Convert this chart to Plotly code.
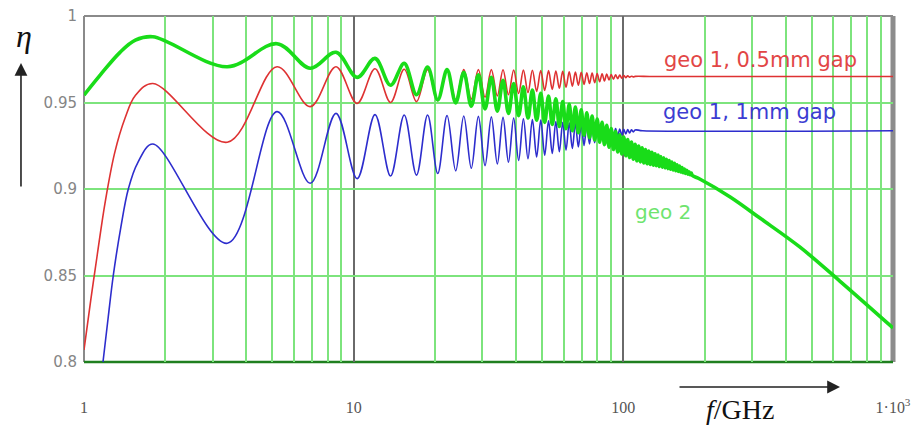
import plotly.graph_objects as go

# ---------------- data ----------------
# frequencies (GHz) of the successive maxima / minima of the ripple
f_osc = [1.8, 3.4, 5.2, 6.9, 8.6, 10.3, 12.0, 13.7, 15.4, 17.1, 18.8, 20.5, 22.2, 23.9,
         25.6, 27.3, 29.0, 30.7, 32.4, 34.1, 35.8, 37.5, 39.2, 40.9, 42.6, 44.3, 46.0,
         47.7, 49.4, 51.1, 52.8, 54.5, 56.2, 57.9, 59.6, 61.3, 63.0, 64.7, 66.4, 68.1,
         69.8, 71.5, 73.2, 74.9, 76.6, 78.3, 80.0, 81.7, 83.4, 85.1, 86.8, 88.5, 90.2,
         91.9, 93.6, 95.3, 97.0, 98.7, 100.4, 102.1, 103.8, 105.5, 107.2, 108.9, 110.6]

# geo 1, 0.5 mm gap (red)
red_lead_f = [1.0, 1.06, 1.12, 1.2, 1.3, 1.42, 1.55]
red_lead_eta = [0.807, 0.836, 0.862, 0.893, 0.921, 0.941, 0.954]
red_osc_eta = [0.961, 0.927, 0.9707, 0.9476, 0.9707, 0.9495, 0.9695, 0.9500, 0.9692, 0.9505,
               0.9690, 0.9510, 0.9690, 0.9515, 0.9690, 0.9520, 0.9690, 0.9530, 0.9690, 0.9538,
               0.9689, 0.9545, 0.9688, 0.9552, 0.9687, 0.9558, 0.9686, 0.9564, 0.9685, 0.9570,
               0.9684, 0.9576, 0.9682, 0.9582, 0.9680, 0.9588, 0.9678, 0.9594, 0.9676, 0.9600,
               0.9674, 0.9605, 0.9672, 0.9610, 0.9670, 0.9615, 0.9668, 0.9620, 0.9666, 0.9625,
               0.9664, 0.9630, 0.9662, 0.9634, 0.9660, 0.9638, 0.9658, 0.9641, 0.9656, 0.9644,
               0.9654, 0.9646, 0.9652, 0.9648, 0.9651]
red_tail_f = [130, 1000]
red_tail_eta = [0.965, 0.965]

# geo 1, 1 mm gap (blue)
blue_lead_f = [1.176, 1.23, 1.284, 1.37, 1.46, 1.58]
blue_lead_eta = [0.800, 0.826, 0.850, 0.878, 0.900, 0.915]
blue_osc_eta = [0.926, 0.8686, 0.9447, 0.9033, 0.9437, 0.9060, 0.9430, 0.9075, 0.9428, 0.9080,
                0.9428, 0.9090, 0.9425, 0.9105, 0.9422, 0.9120, 0.9420, 0.9135, 0.9417, 0.9145,
                0.9414, 0.9155, 0.9410, 0.9165, 0.9406, 0.9175, 0.9402, 0.9185, 0.9398, 0.9195,
                0.9394, 0.9205, 0.9390, 0.9215, 0.9386, 0.9225, 0.9382, 0.9234, 0.9378, 0.9243,
                0.9374, 0.9252, 0.9370, 0.9260, 0.9366, 0.9268, 0.9362, 0.9276, 0.9358, 0.9284,
                0.9355, 0.9291, 0.9352, 0.9298, 0.9349, 0.9305, 0.9347, 0.9312, 0.9345, 0.9318,
                0.9343, 0.9324, 0.9342, 0.9330, 0.9341]
blue_tail_f = [118, 1000]
blue_tail_eta = [0.9337, 0.9337]

# geo 2 (green)
green_lead_f = [1.0, 1.15, 1.36, 1.55]
green_lead_eta = [0.9543, 0.966, 0.979, 0.986]
green_osc_eta = [0.988, 0.9707, 0.984, 0.9698, 0.979, 0.9645, 0.9755, 0.9600, 0.9726, 0.9545,
                 0.9705, 0.9515, 0.9690, 0.9498, 0.9675, 0.9478, 0.9660, 0.9463, 0.9645, 0.9450,
                 0.9628, 0.9437, 0.9610, 0.9424, 0.9591, 0.9410, 0.9572, 0.9397, 0.9553, 0.9385,
                 0.9537, 0.9373, 0.9521, 0.9361, 0.9505, 0.9349, 0.9489, 0.9337, 0.9473, 0.9325,
                 0.9458, 0.9311, 0.9440, 0.9297, 0.9422, 0.9283, 0.9404, 0.9270, 0.9386, 0.9256,
                 0.9368, 0.9242, 0.9350, 0.9228, 0.9332, 0.9214, 0.9314, 0.9202, 0.9300, 0.9192,
                 0.9286, 0.9182, 0.9272, 0.9172, 0.9258]
green_ext_f = [112.3, 114.0, 115.7, 117.4, 119.1, 120.8, 122.5, 124.2, 125.9, 127.6, 129.3,
               131.0, 132.7, 134.4, 136.1, 137.8, 139.5, 141.2, 142.9, 144.6, 146.3, 148.0,
               149.7, 151.4, 153.1, 154.8, 156.5, 158.2, 159.9, 161.6, 163.3, 165.0, 166.7,
               168.4, 170.1, 171.8, 173.5, 175.2, 176.9, 178.6, 180.3]
green_ext_eta = [0.9163, 0.9248, 0.9157, 0.9238, 0.9151, 0.9228, 0.9146, 0.9220, 0.9142, 0.9212,
                 0.9138, 0.9204, 0.9134, 0.9196, 0.9130, 0.9188, 0.9126, 0.9180, 0.9122, 0.9172,
                 0.9118, 0.9164, 0.9114, 0.9156, 0.9110, 0.9148, 0.9106, 0.9140, 0.9102, 0.9132,
                 0.9098, 0.9124, 0.9094, 0.9116, 0.9090, 0.9108, 0.9086, 0.9100, 0.9082, 0.9092,
                 0.9078]
green_tail_f = [192, 249, 321, 451, 635, 1000]
green_tail_eta = [0.9058, 0.8954, 0.8832, 0.8665, 0.8468, 0.8197]

x_tick_vals = [1, 10, 100, 1000]
x_tick_text = ["1", "10", "100", "1\u00b710<sup>3</sup>"]
y_tick_vals = [0.8, 0.85, 0.9, 0.95, 1.0]
y_tick_text = ["0.8", "0.85", "0.9", "0.95", "1"]

# ---------------- figure ----------------
GRID_GREEN = "rgb(125,228,125)"

fig = go.Figure()

fig.add_trace(go.Scatter(
    x=red_lead_f + f_osc + red_tail_f,
    y=red_lead_eta + red_osc_eta + red_tail_eta,
    mode="lines", line=dict(color="rgb(222,50,50)", width=1.6, shape="spline"),
    name="geo 1, 0.5mm gap"))

fig.add_trace(go.Scatter(
    x=blue_lead_f + f_osc + blue_tail_f,
    y=blue_lead_eta + blue_osc_eta + blue_tail_eta,
    mode="lines", line=dict(color="rgb(45,45,205)", width=1.6, shape="spline"),
    name="geo 1, 1mm gap"))

fig.add_trace(go.Scatter(
    x=green_lead_f + f_osc + green_ext_f + green_tail_f,
    y=green_lead_eta + green_osc_eta + green_ext_eta + green_tail_eta,
    mode="lines", line=dict(color="rgb(25,220,25)", width=3.6, shape="spline"),
    name="geo 2"))

fig.update_layout(
    width=917, height=430,
    margin=dict(l=84, r=24, t=16, b=68, autoexpand=False),
    paper_bgcolor="white", plot_bgcolor="white",
    showlegend=False,
    xaxis=dict(
        type="log", range=[0, 3], automargin=False,
        tickvals=x_tick_vals, ticktext=x_tick_text,
        showgrid=True, gridcolor="#6a6a6a", gridwidth=2,
        minor=dict(dtick="D1", showgrid=True, gridcolor=GRID_GREEN, gridwidth=1.6, ticks=""),
        zeroline=False, showline=False, ticks="",
        ticklabelstandoff=34,
        tickfont=dict(family="Liberation Serif", size=16, color="#555555"),
    ),
    yaxis=dict(
        range=[0.8, 1.0], automargin=False,
        tickvals=y_tick_vals, ticktext=y_tick_text,
        showgrid=True, gridcolor=GRID_GREEN, gridwidth=1.6,
        zeroline=False, showline=False, ticks="",
        ticklabelstandoff=6,
        tickfont=dict(family="DejaVu Sans", size=15, color="#858585"),
    ),
)

# frame
fig.add_shape(type="line", xref="paper", yref="paper", x0=0, x1=0, y0=0, y1=1,
              line=dict(color="#8a8a8a", width=2), layer="between")
fig.add_shape(type="line", xref="paper", yref="paper", x0=0, x1=1, y0=1, y1=1,
              line=dict(color="#8a8a8a", width=2), layer="between")
fig.add_shape(type="line", xref="paper", yref="paper", x0=1, x1=1, y0=0, y1=1,
              line=dict(color="#8c8c8c", width=5), layer="between")
fig.add_shape(type="line", xref="paper", yref="paper", x0=0, x1=1, y0=0, y1=0,
              line=dict(color="#1f7f1f", width=2.5), layer="between")

# curve labels
fig.add_annotation(x=0.8356, y=0.8728, xref="paper", yref="paper", showarrow=False,
                   text="geo 1, 0.5mm gap", xanchor="center", yanchor="middle",
                   font=dict(family="DejaVu Sans", size=21, color="rgb(226,70,70)"))
fig.add_annotation(x=0.8232, y=0.7225, xref="paper", yref="paper", showarrow=False,
                   text="geo 1, 1mm gap", xanchor="center", yanchor="middle",
                   font=dict(family="DejaVu Sans", size=21, color="rgb(60,60,210)"))
fig.add_annotation(x=0.7157, y=0.4335, xref="paper", yref="paper", showarrow=False,
                   text="geo 2", xanchor="center", yanchor="middle",
                   font=dict(family="DejaVu Sans", size=20, color="rgb(110,228,110)"))

# axis titles with arrows
fig.add_annotation(x=-0.0742, y=0.942, xref="paper", yref="paper", showarrow=False,
                   text="<i>\u03b7</i>", xanchor="center", yanchor="middle",
                   font=dict(family="Liberation Serif", size=32, color="#111111"))
fig.add_annotation(x=-0.0779, y=0.864, xref="paper", yref="paper", text="",
                   showarrow=True, ax=0, ay=125, arrowhead=2, arrowsize=1.6,
                   arrowwidth=1.6, arrowcolor="#222222")
fig.add_annotation(x=0.8109, y=-0.138, xref="paper", yref="paper", showarrow=False,
                   text="<i>f</i>/GHz", xanchor="center", yanchor="middle",
                   font=dict(family="Liberation Serif", size=28, color="#111111"))
fig.add_annotation(x=0.9345, y=-0.0723, xref="paper", yref="paper", text="",
                   showarrow=True, ax=-162, ay=0, arrowhead=2, arrowsize=1.6,
                   arrowwidth=1.6, arrowcolor="#222222")

fig.write_html("out.html",
               config={"displayModeBar": False},
               post_script="document.body.style.margin='0px';"
                           "document.body.style.overflow='hidden';")
